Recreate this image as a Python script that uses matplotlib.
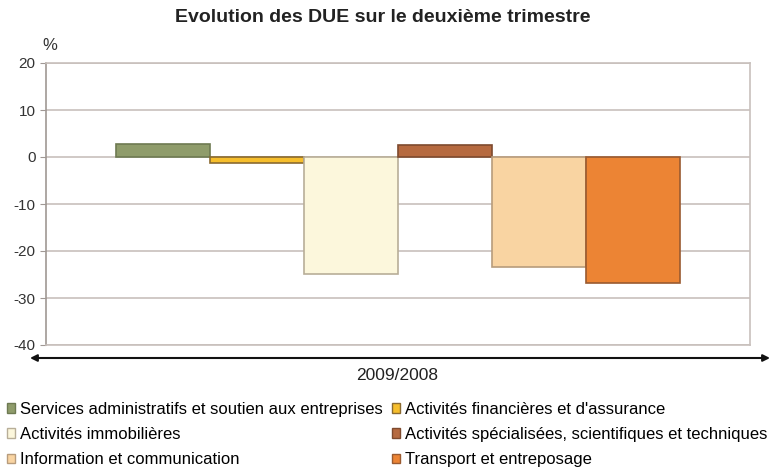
import matplotlib.pyplot as plt
from matplotlib.patches import Patch
import numpy as np

# Données
categories = [
    "Services administratifs et soutien aux entreprises",
    "Activités financières et d'assurance",
    "Activités immobilières",
    "Activités spécialisées, scientifiques et techniques",
    "Information et communication",
    "Transport et entreposage",
]
valeurs = [2.8, -1.2, -24.8, 2.5, -23.5, -26.9]
couleurs = ["#8F9C6B", "#F6BE2C", "#FCF7DC", "#B66A40", "#F9D4A2", "#EC8434"]
bords = ["#6E7A52", "#8A6A30", "#B8AE98", "#7E4A2E", "#B89C7C", "#9A5A30"]
yticks = [20, 10, 0, -10, -20, -30, -40]

plt.rcParams['font.family'] = ['Liberation Sans', 'DejaVu Sans']

fig = plt.figure(figsize=(7.71, 4.68), dpi=100)
ax = fig.add_axes([46/771, 1 - 345/468, (750 - 46)/771, (345 - 63)/468])

x = np.arange(len(valeurs)) - 2.5
bars = ax.bar(x, valeurs, width=1.0, color=couleurs, edgecolor=bords, linewidth=1.2, zorder=3)

ax.set_xlim(-3.74, 3.75)
ax.set_ylim(-40, 20)
ax.set_yticks(yticks)
ax.set_yticklabels([str(t) for t in yticks], fontsize=11, color="#333333")
ax.set_xticks([])
ax.yaxis.grid(True, color="#C8C0BC", linewidth=1.2, zorder=0)
for s in ax.spines.values():
    s.set_color("#C8C0BC")
    s.set_linewidth(1.2)
ax.spines['left'].set_color("#A09894")
ax.tick_params(axis='y', length=4, color="#A09894")

fig.text(42/771, 1 - 45/468, "%", fontsize=12, color="#333333", ha="left", va="center")
fig.text(383/771, 1 - 18/468, "Evolution des DUE sur le deuxième trimestre",
         fontsize=14, fontweight="bold", ha="center", va="center", color="#222222")

# flèche horizontale sous le graphique
ax.annotate("", xy=(770/771, 1 - 358/468), xytext=(30/771, 1 - 358/468),
            xycoords="figure fraction", textcoords="figure fraction",
            arrowprops=dict(arrowstyle="<|-|>", color="#111111", lw=1.5,
                            mutation_scale=10, shrinkA=0, shrinkB=0))
fig.text(397/771, 1 - 375/468, "2009/2008", fontsize=12.5, ha="center", va="center", color="#222222")

ordre = [0, 2, 4, 1, 3, 5]
handles = [Patch(facecolor=couleurs[i], edgecolor=bords[i]) for i in ordre]
labels = [categories[i] for i in ordre]
fig.legend(handles, labels, loc="upper left", bbox_to_anchor=(0/771, 1 - 395/468),
           ncol=2, frameon=False, fontsize=12, handlelength=0.5, handleheight=0.5,
           handletextpad=0.3, columnspacing=0.55, labelspacing=0.62, borderaxespad=0)

plt.savefig("out.png", dpi=100)
plt.close()
